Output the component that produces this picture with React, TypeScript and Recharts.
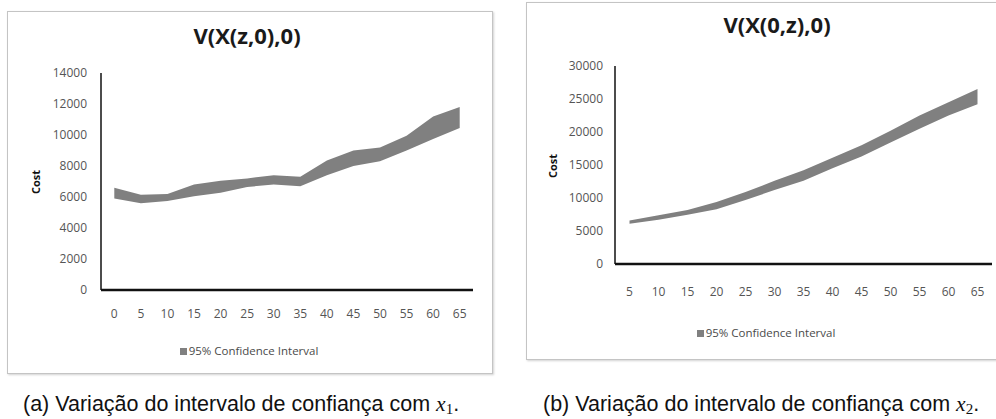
import React from 'react';
import { AreaChart, Area, XAxis, YAxis, Legend } from 'recharts';

// ---- Data ----
const xLabelsA = ['0', '5', '10', '15', '20', '25', '30', '35', '40', '45', '50', '55', '60', '65'];
const lowerA = [5900, 5600, 5750, 6050, 6280, 6650, 6800, 6700, 7400, 8000, 8300, 9000, 9750, 10450];
const upperA = [6600, 6150, 6200, 6800, 7050, 7200, 7400, 7300, 8350, 9000, 9200, 9950, 11200, 11800];
const yTicksA = [0, 2000, 4000, 6000, 8000, 10000, 12000, 14000];

const xLabelsB = ['5', '10', '15', '20', '25', '30', '35', '40', '45', '50', '55', '60', '65'];
const lowerB = [6100, 6700, 7450, 8300, 9700, 11200, 12600, 14500, 16300, 18400, 20500, 22500, 24200];
const upperB = [6600, 7400, 8200, 9400, 10900, 12600, 14200, 16100, 18000, 20200, 22500, 24500, 26500];
const yTicksB = [0, 5000, 10000, 15000, 20000, 25000, 30000];

const titleA = 'V(X(z,0),0)';
const titleB = 'V(X(0,z),0)';
const seriesName = '95% Confidence Interval';
const yLabel = 'Cost';
const captionA = '(a) Variação do intervalo de confiança com ';
const captionB = '(b) Variação do intervalo de confiança com ';

const dataA = xLabelsA.map((x, i) => ({ x, low: lowerA[i], high: upperA[i] }));
const dataB = xLabelsB.map((x, i) => ({ x, low: lowerB[i], high: upperB[i] }));

const FONT = "'Open Sans', 'DejaVu Sans', sans-serif";
const BAND = '#808080';

const LegendContent = (props: any) => {
  const p = (props.payload && props.payload[0]) || { value: seriesName, color: BAND };
  return (
    <div style={{ display: 'flex', justifyContent: 'center', alignItems: 'center', fontFamily: FONT, fontSize: 11.5, color: '#4a4a4a', lineHeight: '16px' }}>
      <span style={{ display: 'inline-block', width: 7, height: 7, background: BAND, marginRight: 2 }} />
      <span>{p.value}</span>
    </div>
  );
};

const costLabel = (x: number, y: number) => () => (
  <text x={x} y={y} transform={`rotate(-90, ${x}, ${y})`} textAnchor="middle" dominantBaseline="central"
    style={{ fontFamily: FONT, fontSize: 11, fontWeight: 700, fill: '#111' }}>{yLabel}</text>
);

interface PanelProps {
  data: any[];
  ticks: number[];
  max: number;
  width: number;
  height: number;
  margin: { top: number; right: number; bottom: number; left: number };
  tickMarginY: number;
  tickMarginX: number;
  pad: number;
  costX: number;
  costY: number;
  legendTop: number;
}

const Panel = (p: PanelProps) => (
  <AreaChart width={p.width} height={p.height} data={p.data} margin={p.margin}>
    <XAxis dataKey="x" type="category" interval={0} tickLine={false} tickSize={0} tickMargin={p.tickMarginX}
      height={30} padding={{ left: p.pad, right: p.pad }}
      axisLine={{ stroke: '#111', strokeWidth: 2.5 }}
      tick={{ fill: '#555', fontSize: 12, fontFamily: FONT }} />
    <YAxis type="number" domain={[0, p.max]} ticks={p.ticks} interval={0} width={60} tickLine={false}
      tickSize={0} tickMargin={p.tickMarginY}
      axisLine={{ stroke: '#111', strokeWidth: 1.5 }}
      tick={{ fill: '#555', fontSize: 12, fontFamily: FONT }}
      label={{ content: costLabel(p.costX, p.costY) }} />
    <Legend layout="horizontal" verticalAlign="middle" align="center"
      wrapperStyle={{ top: p.legendTop, left: 0, width: p.width }} content={LegendContent} />
    <Area type="linear" dataKey={(d: any) => [d.low, d.high]} name={seriesName} fill={BAND} fillOpacity={1}
      stroke="none" isAnimationActive={false} dot={false} activeDot={false} legendType="square" />
  </AreaChart>
);

const boxStyle: React.CSSProperties = {
  position: 'absolute',
  border: '1px solid #c4c4c4',
  boxShadow: '1px 1px 2px rgba(0,0,0,0.18)',
  background: '#fff',
};

const titleStyle: React.CSSProperties = {
  position: 'absolute',
  width: 300,
  textAlign: 'center',
  fontFamily: FONT,
  fontSize: 22,
  fontWeight: 700,
  lineHeight: '30px',
  color: '#1a1a1a',
  whiteSpace: 'nowrap',
};

const captionStyle: React.CSSProperties = {
  position: 'absolute',
  fontFamily: "'Liberation Sans', Arial, sans-serif",
  fontSize: 21.5,
  lineHeight: '24px',
  color: '#111',
  whiteSpace: 'nowrap',
};

const MathX = ({ sub }: { sub: string }) => (
  <span style={{ fontFamily: "'Liberation Serif', 'DejaVu Serif', serif" }}>
    <i>x</i>
    <span style={{ fontSize: '0.7em', position: 'relative', top: '0.2em' }}>{sub}</span>
  </span>
);

export default function App() {
  return (
    <div style={{ position: 'absolute', left: 0, top: 0, width: 996, height: 419, background: '#fff', overflow: 'hidden' }}>
      {/* Left panel */}
      <div style={{ ...boxStyle, left: 7, top: 11, width: 484, height: 361 }} />
      <div style={{ position: 'absolute', left: 7, top: 11 }}>
        <Panel data={dataA} ticks={yTicksA} max={14000} width={484} height={361}
          margin={{ top: 62, right: 18, bottom: 52, left: 34 }}
          tickMarginY={14} tickMarginX={19} pad={13.3} costX={28} costY={171} legendTop={332} />
      </div>
      <div style={{ ...titleStyle, left: 247 - 150, top: 20 }}>{titleA}</div>

      {/* Right panel */}
      <div style={{ ...boxStyle, left: 526, top: 2, width: 490, height: 356 }} />
      <div style={{ position: 'absolute', left: 526, top: 2 }}>
        <Panel data={dataB} ticks={yTicksB} max={30000} width={480} height={356}
          margin={{ top: 64, right: 14, bottom: 64, left: 29 }}
          tickMarginY={12} tickMarginX={23} pad={14.5} costX={26} costY={164} legendTop={323} />
      </div>
      <div style={{ ...titleStyle, left: 777 - 150, top: 9 }}>{titleB}</div>

      {/* Captions */}
      <div style={{ ...captionStyle, left: 23, top: 392 }}>{captionA}<MathX sub="1" />.</div>
      <div style={{ ...captionStyle, left: 543, top: 392 }}>{captionB}<MathX sub="2" />.</div>
    </div>
  );
}
